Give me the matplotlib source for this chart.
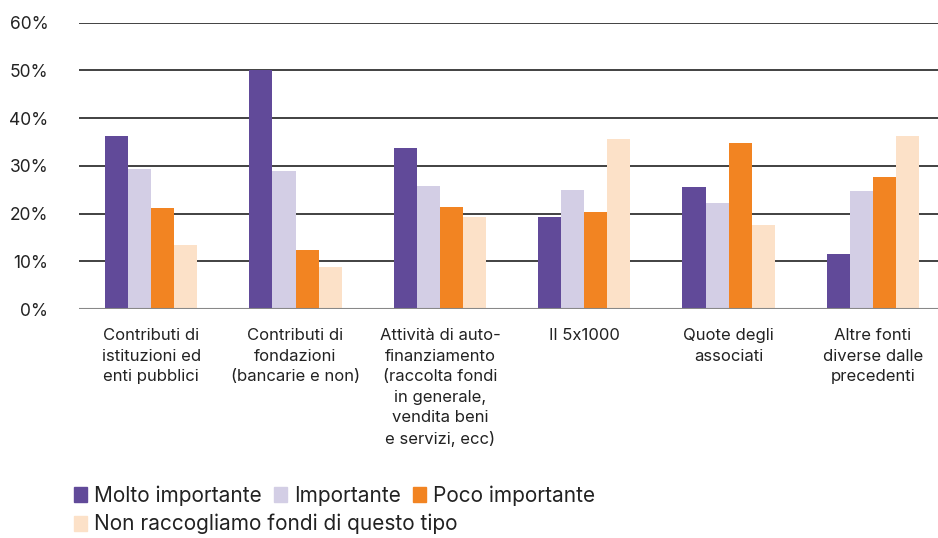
import numpy as np
import matplotlib
matplotlib.use("Agg")
import matplotlib.pyplot as plt
from matplotlib.patches import Patch

plt.rcParams['font.family'] = ['Inter', 'DejaVu Sans']

# dati
categorie = [
    "Contributi di\nistituzioni ed\nenti pubblici",
    "Contributi di\nfondazioni\n(bancarie e non)",
    "Attività di auto-\nfinanziamento\n(raccolta fondi\nin generale,\nvendita beni\ne servizi, ecc)",
    "Il 5x1000",
    "Quote degli\nassociati",
    "Altre fonti\ndiverse dalle\nprecedenti",
]
molto_importante = [36.2, 50.0, 33.7, 19.3, 25.6, 11.5]
importante = [29.3, 28.9, 25.8, 24.9, 22.2, 24.7]
poco_importante = [21.2, 12.4, 21.4, 20.3, 34.8, 27.7]
non_raccogliamo = [13.4, 8.8, 19.3, 35.6, 17.6, 36.2]

serie = [
    ("Molto importante", molto_importante, "#614A99"),
    ("Importante", importante, "#D3CEE5"),
    ("Poco importante", poco_importante, "#F28422"),
    ("Non raccogliamo fondi di questo tipo", non_raccogliamo, "#FCE1C8"),
]

fig = plt.figure(figsize=(9.38, 5.38), dpi=100)
ax = fig.add_axes([79 / 938, 1 - 309 / 538, 1 - 79 / 938, (309 - 22.7) / 538])

x = np.arange(len(categorie))
w = 0.16
for i, (nome, valori, colore) in enumerate(serie):
    ax.bar(x + (i - 1.5) * w, valori, width=w, color=colore, zorder=3, label=nome)

# griglia
for y in range(10, 70, 10):
    ax.axhline(y, color="#333333", lw=1.3, zorder=1)
ax.axhline(0, color="#888888", lw=1.5, zorder=4)

ax.set_ylim(0, 60)
ax.set_xlim(-0.5, 5.45)
ax.set_yticks(range(0, 70, 10))
ax.set_yticklabels([f"{v}%" for v in range(0, 70, 10)], fontsize=12.5, color="#222222")
ax.set_xticks(x)
ax.set_xticklabels(categorie, fontsize=12, color="#222222", linespacing=1.45, va="top")
ax.tick_params(axis="y", length=0, pad=22)
ax.tick_params(axis="x", length=0, pad=14)
for s in ax.spines.values():
    s.set_visible(False)

# legenda
h = [Patch(color=c) for _, _, c in serie]
stile = dict(loc="upper left", frameon=False, fontsize=15, handlelength=0.6,
             handleheight=0.75, handletextpad=0.35, borderaxespad=0, borderpad=0,
             labelcolor="#222222")
leg1 = fig.legend(h[:3], [n for n, _, _ in serie[:3]], ncol=3, columnspacing=0.6,
                  bbox_to_anchor=(74 / 938, 1 - 485 / 538), **stile)
leg2 = fig.legend(h[3:], [serie[3][0]],
                  bbox_to_anchor=(74 / 938, 1 - 514 / 538), **stile)

fig.savefig("out.png", dpi=100)
